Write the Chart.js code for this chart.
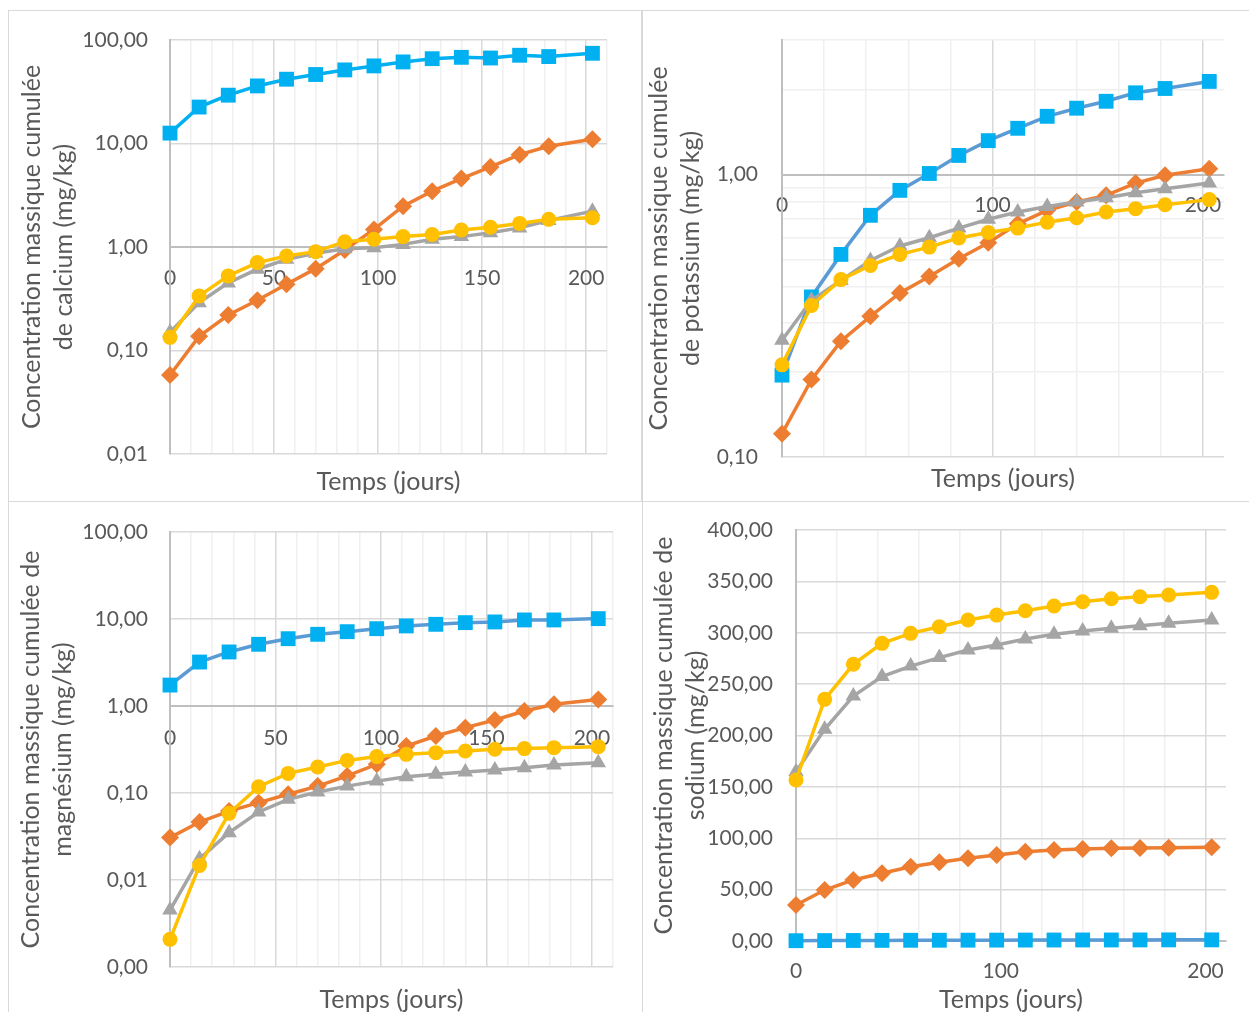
<!DOCTYPE html>
<html lang="fr">
<head>
<meta charset="UTF-8" />
<title>Concentrations massiques cumulées</title>
<script src="https://cdn.jsdelivr.net/npm/chart.js@4.4.1/dist/chart.umd.min.js"></script>
<style>
  body { margin: 0; background: #fff; width: 1249px; height: 1012px; overflow: hidden; position: relative; }
  .frame { position: absolute; border: 1.5px solid #d9d9d9; box-sizing: border-box; }
  .panel { position: absolute; }
</style>
</head>
<body>
<div class="frame" style="left:8px;top:10px;width:635px;height:492px"></div>
<div class="frame" style="left:641px;top:10px;width:630px;height:492px"></div>
<div class="frame" style="left:8px;top:501px;width:635px;height:530px"></div>
<div class="frame" style="left:642px;top:501px;width:630px;height:530px"></div>

<div class="panel" style="left:10px;top:12px;width:631px;height:489px"><canvas id="calcium"></canvas></div>
<div class="panel" style="left:643px;top:12px;width:606px;height:489px"><canvas id="potassium"></canvas></div>
<div class="panel" style="left:10px;top:503px;width:631px;height:509px"><canvas id="magnesium"></canvas></div>
<div class="panel" style="left:644px;top:503px;width:605px;height:509px"><canvas id="sodium"></canvas></div>

<script>
  // jours de prélèvement
  const days = [0, 14, 28, 42, 56, 70, 84, 98, 112, 126, 140, 154, 168, 182, 203];

  // calcium (mg/kg)
  const caBlue = [12.6, 22.5, 29.3, 36.0, 41.8, 46.4, 51.4, 56.2, 61.4, 66.0, 68.0, 67.0, 71.2, 69.2, 74.4];
  const caOrange = [0.058, 0.137, 0.22, 0.306, 0.437, 0.618, 0.936, 1.48, 2.48, 3.46, 4.58, 5.94, 7.8, 9.4, 11.0];
  const caGray = [0.15, 0.29, 0.45, 0.61, 0.76, 0.87, 0.96, 0.985, 1.06, 1.19, 1.26, 1.37, 1.53, 1.8, 2.22];
  const caYellow = [0.134, 0.337, 0.526, 0.707, 0.819, 0.902, 1.125, 1.19, 1.26, 1.32, 1.46, 1.55, 1.69, 1.85, 1.92];

  // potassium (mg/kg)
  const kBlue = [0.195, 0.369, 0.522, 0.718, 0.88, 1.01, 1.17, 1.32, 1.46, 1.61, 1.72, 1.82, 1.95, 2.02, 2.14];
  const kOrange = [0.121, 0.188, 0.257, 0.315, 0.381, 0.436, 0.504, 0.574, 0.67, 0.748, 0.8, 0.845, 0.934, 0.995, 1.05];
  const kGray = [0.259, 0.359, 0.422, 0.497, 0.559, 0.598, 0.647, 0.695, 0.738, 0.772, 0.8, 0.829, 0.863, 0.892, 0.934];
  const kYellow = [0.212, 0.344, 0.425, 0.477, 0.522, 0.554, 0.597, 0.624, 0.647, 0.679, 0.704, 0.738, 0.758, 0.783, 0.816];

  // magnésium (mg/kg)
  const mgBlue = [1.74, 3.2, 4.18, 5.12, 5.94, 6.67, 7.15, 7.74, 8.32, 8.69, 9.08, 9.25, 9.75, 9.75, 10.1];
  const mgOrange = [0.0307, 0.0464, 0.062, 0.0774, 0.0966, 0.12, 0.157, 0.214, 0.347, 0.452, 0.564, 0.69, 0.877, 1.045, 1.19];
  const mgGray = [0.00452, 0.0176, 0.035, 0.0605, 0.0846, 0.1026, 0.12, 0.137, 0.154, 0.164, 0.174, 0.184, 0.195, 0.21, 0.223];
  const mgYellow = [0.00208, 0.0147, 0.0584, 0.118, 0.168, 0.199, 0.237, 0.262, 0.278, 0.291, 0.304, 0.318, 0.324, 0.332, 0.341];

  // sodium (mg/kg)
  const naBlue = [0.3, 0.4, 0.5, 0.6, 0.7, 0.75, 0.8, 0.85, 0.9, 0.95, 1.0, 1.0, 1.05, 1.1, 1.1];
  const naOrange = [35, 49.6, 59.4, 65.9, 72.3, 76.6, 80.5, 83.7, 86.9, 88.6, 89.5, 90.2, 90.5, 90.8, 91.2];
  const naGray = [164.8, 206, 238.4, 257.3, 267.6, 275.8, 283.2, 288.1, 293.9, 298.5, 301.8, 304.3, 306.9, 309.2, 312.4];
  const naYellow = [156.7, 235.2, 269.3, 289.7, 299.4, 305.9, 312.4, 317.2, 321.4, 326, 330.2, 333.1, 335, 336.7, 339.3];

  // graduations
  const logDecades = [0.001, 0.01, 0.1, 1, 10, 100];
  const kYTicks = [0.1, 0.2, 0.3, 0.4, 0.5, 0.6, 0.7, 0.8, 0.9, 1, 2, 3];
  const kYLabels = [0.1, 1];
  const naYTicks = [0, 50, 100, 150, 200, 250, 300, 350, 400];

  const FONT = "Lato";
  const TXT = "#595959";
  const GRID_MAJOR = "#d9d9d9";
  const GRID_MINOR = "#f0f0f0";
  const AXIS = "#bfbfbf";

  function fmt(v) {
    return v.toFixed(2).replace(".", ",");
  }

  function series(vals, kind, lineColor) {
    const styles = {
      blue: { c: "#00b0f0", ps: "rect", r: 10.5, order: 4 },
      orange: { c: "#ed7d31", ps: "rectRot", r: 9, order: 3 },
      gray: { c: "#a5a5a5", ps: "triangle", r: 9, order: 2 },
      yellow: { c: "#ffc000", ps: "circle", r: 7.5, order: 1 },
    };
    const s = styles[kind];
    return {
      data: days.map((d, i) => ({ x: d, y: vals[i] })),
      borderColor: lineColor || s.c,
      backgroundColor: s.c,
      pointBackgroundColor: s.c,
      pointBorderColor: s.c,
      pointBorderWidth: 0,
      pointStyle: s.ps,
      pointRadius: s.r,
      pointHoverRadius: s.r,
      borderWidth: 3.5,
      order: s.order,
      clip: false,
    };
  }

  function makeChart(id, o) {
    const xTicks = [];
    for (let v = 0; v <= 210; v += o.xStep) xTicks.push(v);
    const cw = document.getElementById(id).parentNode.clientWidth;
    const ch = document.getElementById(id).parentNode.clientHeight;

    const scales = {
      x: {
        type: "linear",
        min: 0,
        max: 210,
        position: o.xAtOne ? { y: 1 } : "bottom",
        afterBuildTicks: (s) => { s.ticks = xTicks.map((v) => ({ value: v })); },
        ticks: {
          autoSkip: false,
          maxRotation: 0,
          padding: 0,
          color: TXT,
          font: { family: FONT, size: 21 },
          callback: (v) => (v % o.xLabelStep === 0 ? String(v) : ""),
        },
        grid: {
          drawTicks: true,
          tickLength: o.xTickPad,
          tickColor: "rgba(0,0,0,0)",
          lineWidth: 1.5,
          color: (c) => (c.tick && c.tick.value % o.xLabelStep === 0 ? GRID_MAJOR : GRID_MINOR),
        },
        border: { color: AXIS, width: 2 },
      },
      y: {
        type: o.yType,
        min: o.yMin,
        max: o.yMax,
        afterBuildTicks: (s) => { s.ticks = o.yTicks.map((v) => ({ value: v })); },
        afterFit: (s) => { s.width = o.plotLeft; },
        ticks: {
          autoSkip: false,
          padding: 0,
          color: TXT,
          font: { family: FONT, size: 21 },
          callback: (v) => (o.yLabels.includes(v) ? fmt(v) : ""),
        },
        grid: {
          drawTicks: true,
          tickLength: o.yTickPad,
          tickColor: "rgba(0,0,0,0)",
          lineWidth: 1.5,
          color: (c) => (c.tick && o.yLabels.includes(c.tick.value) ? GRID_MAJOR : GRID_MINOR),
        },
        border: { color: AXIS, width: 2 },
        title: {
          display: true,
          text: o.yTitle,
          color: TXT,
          font: { family: FONT, size: 25, lineHeight: 32 / 25 },
          padding: { top: o.yTitlePad, bottom: 0 },
        },
      },
    };

    const xTitle = {
      display: true,
      text: "Temps (jours)",
      color: TXT,
      font: { family: FONT, size: 25, lineHeight: 24 / 25 },
      padding: { top: 0, bottom: o.xTitleOffset - 12 },
    };

    if (o.xAtOne) {
      scales.x2 = {
        type: "linear",
        axis: "x",
        position: "bottom",
        grid: { display: false, drawTicks: false },
        border: { display: false },
        ticks: { display: false },
        title: xTitle,
        afterFit: (s) => { s.height = ch - o.plotBottom; },
      };
    } else {
      scales.x.title = xTitle;
      scales.x.afterFit = (s) => { s.height = ch - o.plotBottom; };
    }

    return new Chart(document.getElementById(id), {
      type: "line",
      data: { datasets: o.datasets },
      options: {
        responsive: true,
        maintainAspectRatio: false,
        animation: false,
        layout: { padding: { left: 0, top: o.plotTop, right: cw - o.plotRight, bottom: 0 } },
        plugins: { legend: { display: false }, tooltip: { enabled: false } },
        scales: scales,
      },
    });
  }

  makeChart("calcium", {
    datasets: [
      series(caBlue, "blue"),
      series(caOrange, "orange"),
      series(caGray, "gray"),
      series(caYellow, "yellow"),
    ],
    yType: "logarithmic", yMin: 0.01, yMax: 100,
    yTicks: logDecades.slice(1), yLabels: logDecades,
    yTitle: ["Concentration massique cumulée", "de calcium (mg/kg)"],
    xStep: 10, xLabelStep: 50, xAtOne: true,
    plotLeft: 160, plotRight: 597, plotTop: 28, plotBottom: 442,
    yTickPad: 22, xTickPad: 19, yTitlePad: 6, xTitleOffset: 19,
  });

  makeChart("potassium", {
    datasets: [
      series(kBlue, "blue", "#5b9bd5"),
      series(kOrange, "orange"),
      series(kGray, "gray"),
      series(kYellow, "yellow"),
    ],
    yType: "logarithmic", yMin: 0.1, yMax: 3,
    yTicks: kYTicks, yLabels: kYLabels,
    yTitle: ["Concentration massique cumulée", "de potassium (mg/kg)"],
    xStep: 20, xLabelStep: 100, xAtOne: true,
    plotLeft: 139, plotRight: 581, plotTop: 28, plotBottom: 445,
    yTickPad: 24, xTickPad: 18, yTitlePad: 0, xTitleOffset: 22,
  });

  makeChart("magnesium", {
    datasets: [
      series(mgBlue, "blue", "#5b9bd5"),
      series(mgOrange, "orange"),
      series(mgGray, "gray"),
      series(mgYellow, "yellow"),
    ],
    yType: "logarithmic", yMin: 0.001, yMax: 100,
    yTicks: logDecades, yLabels: logDecades,
    yTitle: ["Concentration massique cumulée de", "magnésium (mg/kg)"],
    xStep: 10, xLabelStep: 50, xAtOne: true,
    plotLeft: 160, plotRight: 603, plotTop: 29, plotBottom: 464,
    yTickPad: 22, xTickPad: 20, yTitlePad: 5, xTitleOffset: 12,
  });

  makeChart("sodium", {
    datasets: [
      series(naBlue, "blue", "#5b9bd5"),
      series(naOrange, "orange"),
      series(naGray, "gray"),
      series(naYellow, "yellow"),
    ],
    yType: "linear", yMin: 0, yMax: 400,
    yTicks: naYTicks, yLabels: naYTicks,
    yTitle: ["Concentration massique cumulée de", "sodium (mg/kg)"],
    xStep: 20, xLabelStep: 100, xAtOne: false,
    plotLeft: 152, plotRight: 582, plotTop: 27, plotBottom: 438,
    yTickPad: 23, xTickPad: 18, yTitlePad: 4, xTitleOffset: 12,
  });
</script>
</body>
</html>
